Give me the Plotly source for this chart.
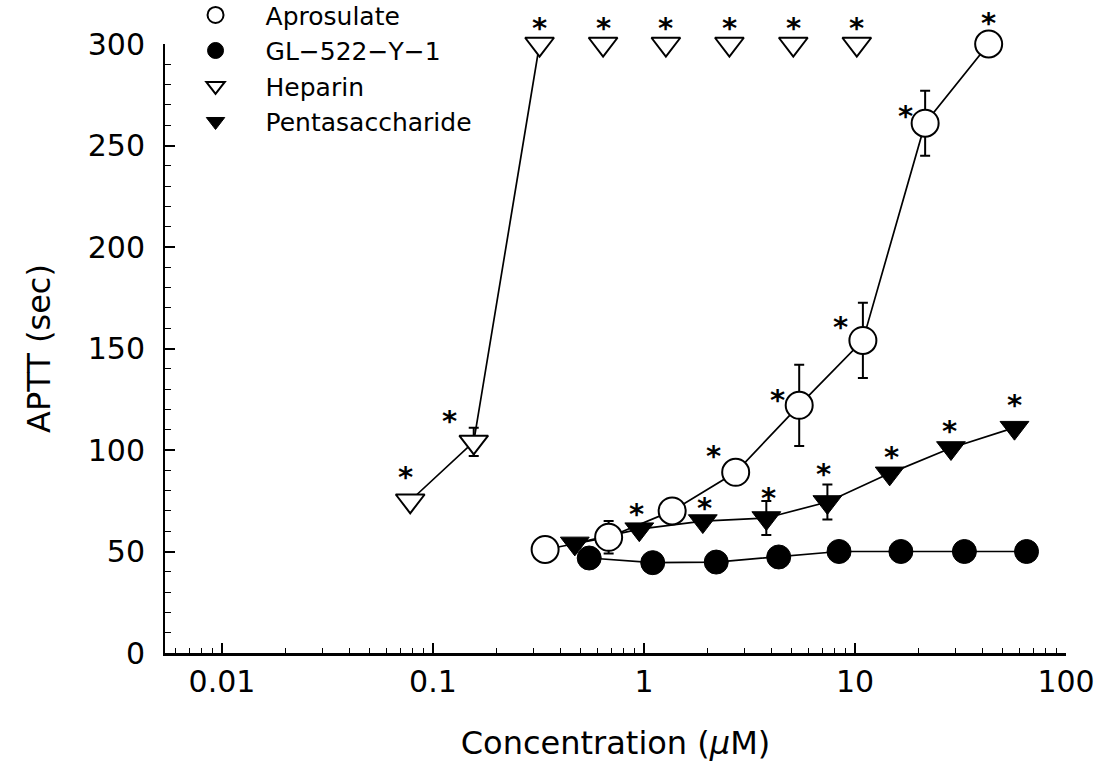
import math
import plotly.graph_objects as go

# ---------------- data ----------------
apro_x = [0.34, 0.68, 1.36, 2.72, 5.44, 10.9, 21.5, 43.0]
apro_y = [51, 57, 70, 89, 122, 154, 261, 300]
apro_err = [0, 8, 0, 0, 20, 18.5, 16, 0]
apro_star = [False, False, False, True, True, True, True, True]

gl_x = [0.55, 1.1, 2.2, 4.35, 8.4, 16.5, 33.0, 65.0]
gl_y = [46.8, 44.5, 44.8, 47.3, 50, 50, 50, 50]

hep_x = [0.078, 0.156, 0.32, 0.64, 1.27, 2.54, 5.1, 10.2]
hep_y = [75, 104, 300, 300, 300, 300, 300, 300]
hep_err = [0, 7, 0, 0, 0, 0, 0, 0]
hep_star = [True] * 8

pen_x = [0.47, 0.95, 1.9, 3.8, 7.4, 14.6, 28.5, 57.0]
pen_y = [54, 61, 65, 66.5, 74.4, 88.5, 101, 111]
pen_err = [0, 0, 0, 8.4, 8.6, 0, 0, 0]
pen_star = [False, True, True, True, True, True, True, True]

xtick_vals = [0.01, 0.1, 1, 10, 100]
xtick_text = ["0.01", "0.1", "1", "10", "100"]

# style: star pixel offsets (dx, dy) relative to each point
apro_star_off = [(0, 0), (0, 0), (0, 0), (-22, 25), (-22, 14), (-22, 22), (-20, 16), (0, 30)]
hep_star_off = [(-5, 33), (-24, 30), (0, 25), (0, 25), (0, 25), (0, 25), (0, 25), (0, 25)]
pen_star_off = [(0, 0), (-3, 24), (2, 22), (2, 29), (-4, 37), (2, 25), (-1, 26), (0, 32)]

FONT = "DejaVu Sans"
BLACK = "black"

fig = go.Figure()

# connecting lines (no legend)
line_style = dict(color=BLACK, width=1.7)
fig.add_trace(go.Scatter(x=apro_x, y=apro_y, mode="lines", line=line_style,
                         showlegend=False, hoverinfo="skip", cliponaxis=False))
fig.add_trace(go.Scatter(x=gl_x, y=gl_y, mode="lines", line=line_style,
                         showlegend=False, hoverinfo="skip", cliponaxis=False))
fig.add_trace(go.Scatter(x=hep_x[:3], y=hep_y[:3], mode="lines", line=line_style,
                         showlegend=False, hoverinfo="skip", cliponaxis=False))
fig.add_trace(go.Scatter(x=pen_x, y=pen_y, mode="lines", line=line_style,
                         showlegend=False, hoverinfo="skip", cliponaxis=False))

err_style = dict(type="data", visible=True, color=BLACK, thickness=2, width=5)

fig.add_trace(go.Scatter(
    x=apro_x, y=apro_y, mode="markers", name="Aprosulate",
    error_y=dict(array=apro_err, **err_style),
    marker=dict(symbol="circle", size=27, color="white", line=dict(color=BLACK, width=2)),
    cliponaxis=False))
fig.add_trace(go.Scatter(
    x=gl_x, y=gl_y, mode="markers", name="GL\u2212522\u2212Y\u22121",
    marker=dict(symbol="circle", size=24, color=BLACK, line=dict(color=BLACK, width=1)),
    cliponaxis=False))
fig.add_trace(go.Scatter(
    x=hep_x, y=hep_y, mode="markers", name="Heparin",
    error_y=dict(array=hep_err, **err_style),
    marker=dict(symbol="triangle-down", size=25, color="white", line=dict(color=BLACK, width=2)),
    cliponaxis=False))
fig.add_trace(go.Scatter(
    x=pen_x, y=pen_y, mode="markers", name="Pentasaccharide",
    error_y=dict(array=pen_err, **err_style),
    marker=dict(symbol="triangle-down", size=25, color=BLACK, line=dict(color=BLACK, width=1)),
    cliponaxis=False))

# significance stars (annotation x on a log axis is given in log10 units)
annotations = []
for xs, ys, flags, offs in [(apro_x, apro_y, apro_star, apro_star_off),
                            (hep_x, hep_y, hep_star, hep_star_off),
                            (pen_x, pen_y, pen_star, pen_star_off)]:
    for xv, yv, f, (dx, dy) in zip(xs, ys, flags, offs):
        if f:
            annotations.append(dict(
                x=math.log10(xv), y=yv, xref="x", yref="y", text="<b>*</b>", showarrow=False,
                xshift=dx, yshift=dy - 9, xanchor="center", yanchor="middle",
                font=dict(family="DejaVu Sans", size=29, color=BLACK)))

fig.update_layout(
    width=1111, height=771,
    margin=dict(l=165, r=45, t=44, b=118, autoexpand=False),
    paper_bgcolor="white", plot_bgcolor="white",
    font=dict(family=FONT, color=BLACK),
    annotations=annotations,
    legend=dict(x=0.0006, y=1.085, xanchor="left", yanchor="top",
                font=dict(family=FONT, size=25, color=BLACK),
                bgcolor="rgba(0,0,0,0)", itemwidth=90, tracegroupgap=0),
)

fig.update_xaxes(
    type="log", range=[-2.27, 2.0],
    tickmode="array", tickvals=xtick_vals, ticktext=xtick_text,
    ticks="inside", ticklen=10, tickwidth=1.5, tickcolor=BLACK,
    minor=dict(ticks="inside", ticklen=5, tickwidth=1.2, tickcolor=BLACK, dtick="D1", showgrid=False),
    showline=True, linecolor=BLACK, linewidth=2.5, showgrid=False, zeroline=False,
    tickfont=dict(family=FONT, size=30, color=BLACK),
    title=dict(text="Concentration (<i>\u03bc</i>M)", font=dict(family=FONT, size=32, color=BLACK), standoff=34),
)
fig.update_yaxes(
    range=[0, 300], dtick=50,
    ticks="inside", ticklen=10, tickwidth=1.5, tickcolor=BLACK,
    minor=dict(ticks="inside", ticklen=6, tickwidth=1.2, tickcolor=BLACK, dtick=10, showgrid=False),
    showline=True, linecolor=BLACK, linewidth=2, showgrid=False, zeroline=False,
    tickfont=dict(family=FONT, size=30, color=BLACK),
    ticklabelstandoff=12,
    title=dict(text="APTT (sec)", font=dict(family=FONT, size=32, color=BLACK), standoff=28),
)

fig.write_html("out.html")
